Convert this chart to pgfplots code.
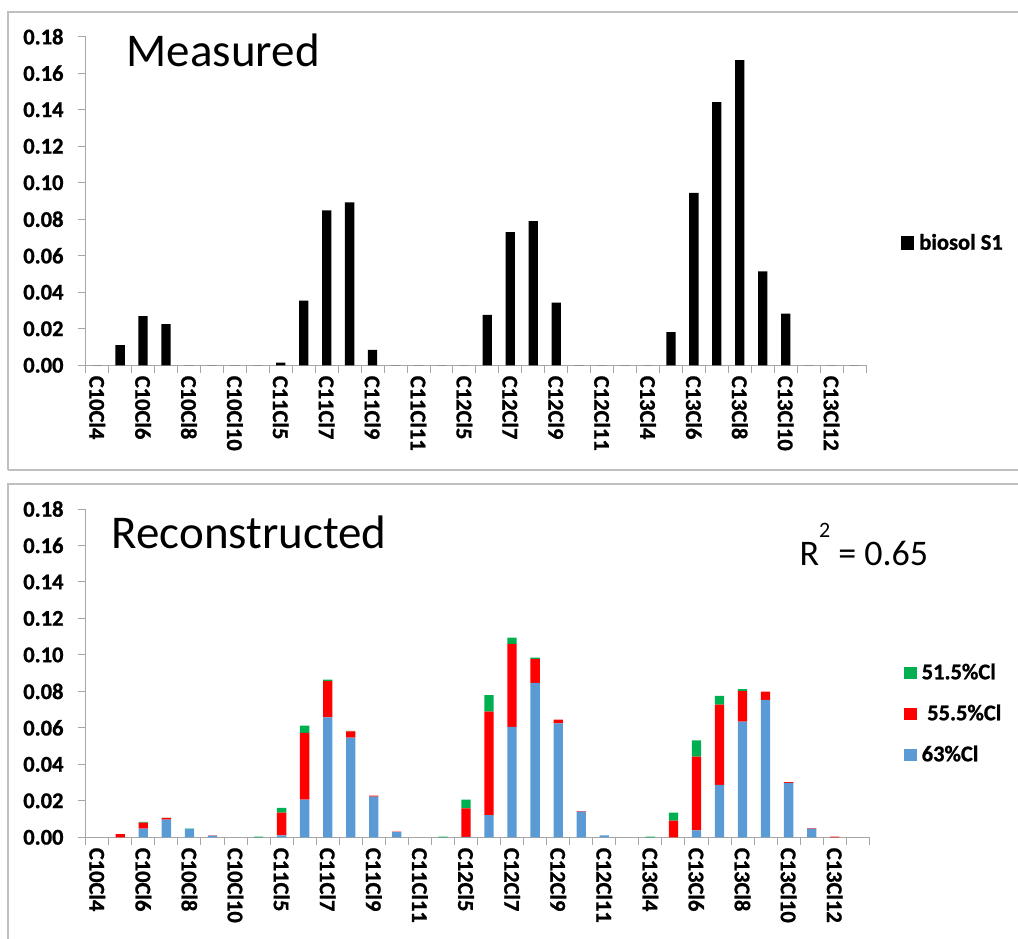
\documentclass[border=0pt]{standalone}
\usepackage{fontspec}
\setmainfont{Carlito}[BoldFeatures={FakeBold=1}]
\usepackage{pgfplots}
\usepackage{pgfplotstable}
\pgfplotsset{compat=1.18}
\definecolor{cgreen}{HTML}{00B050}
\definecolor{cred}{HTML}{FF0000}
\definecolor{cblue}{HTML}{5B9BD5}
\definecolor{axgray}{HTML}{A6A6A6}
\definecolor{bordergray}{HTML}{BFBFBF}
\newcommand\xl[1]{\hspace*{7pt}#1}

\pgfplotstableread{
idx meas
0 0
1 0.0110
2 0.0270
3 0.0225
4 0
5 0
6 0
7 0
8 0.0014
9 0.0354
10 0.0849
11 0.0893
12 0.0084
13 0
14 0
15 0
16 0
17 0.0276
18 0.0729
19 0.0790
20 0.0343
21 0
22 0
23 0
24 0
25 0.0182
26 0.0944
27 0.1441
28 0.1671
29 0.0515
30 0.0283
31 0
32 0
33 0
}\measured

\pgfplotstableread{
idx blue red green
0 0 0 0
1 0 0.0018 0
2 0.0048 0.0032 0.0004
3 0.0097 0.0009 0.0001
4 0.0046 0 0.0002
5 0.0009 0.0002 0
6 0 0 0
7 0 0 0.0003
8 0.0011 0.0124 0.0026
9 0.0207 0.0365 0.0040
10 0.0658 0.0198 0.0009
11 0.0547 0.0034 0.0002
12 0.0223 0.0006 0
13 0.0029 0.0002 0
14 0 0 0
15 0 0 0.0004
16 0.0002 0.0157 0.0048
17 0.0121 0.0568 0.0090
18 0.0605 0.0455 0.0035
19 0.0846 0.0132 0.0007
20 0.0625 0.0020 0
21 0.0141 0.0002 0
22 0.0011 0 0
23 0 0 0
24 0 0 0.0003
25 0 0.0091 0.0044
26 0.0038 0.0404 0.0090
27 0.0287 0.0441 0.0047
28 0.0634 0.0167 0.0011
29 0.0753 0.0046 0
30 0.0298 0.0005 0
31 0.0048 0.0002 0
32 0 0.0003 0
33 0 0 0
}\recon

\pgfplotsset{
  common/.style={
    scale only axis,
    xmin=-0.5, xmax=33.5, ymin=0, ymax=0.18,
    axis lines*=left,
    axis line style={axgray, line width=0.9pt},
    tick style={axgray, line width=0.9pt},
    tick align=outside,
    major tick length=0pt, minor tick length=8pt,
    xtick={0,2,...,32},
    xticklabels={\xl{C10Cl4},\xl{C10Cl6},\xl{C10Cl8},\xl{C10Cl10},\xl{C11Cl5},\xl{C11Cl7},\xl{C11Cl9},\xl{C11Cl11},\xl{C12Cl5},\xl{C12Cl7},\xl{C12Cl9},\xl{C12Cl11},\xl{C13Cl4},\xl{C13Cl6},\xl{C13Cl8},\xl{C13Cl10},\xl{C13Cl12}},
    minor xtick={-0.5,0.5,...,33.5},
    ytick={0,0.02,0.04,0.06,0.08,0.10,0.12,0.14,0.16,0.18},
    minor ytick={0,0.02,0.04,0.06,0.08,0.10,0.12,0.14,0.16,0.18},
    scaled y ticks=false,
    /pgf/number format/fixed,
    /pgf/number format/fixed zerofill,
    /pgf/number format/precision=2,
    /pgf/number format/assume math mode=true,
    ticklabel style={font=\bfseries\fontsize{22.5}{22.5}\selectfont},
    xticklabel style={rotate=-90, anchor=west},
    yticklabel style={anchor=east, inner xsep=22pt},
    xticklabel shift=0pt,
    yticklabel shift=0pt,
    legend style={draw=none, fill=none, anchor=west, inner sep=0pt, outer sep=0pt,
      font=\bfseries\fontsize{22.5}{22.5}\selectfont,
      nodes={inner sep=0pt, text height=14pt, text depth=0pt},
      column sep=5pt, row sep=27pt, cells={anchor=base west}},
  }
}

\begin{document}
\begin{tikzpicture}[x=1pt,y=1pt]
\useasboundingbox (0,0) rectangle (1018,939);
\draw[bordergray, line width=1.2pt] (8,469) -- (8,927) -- (1040,927);
\draw[bordergray, line width=1.2pt] (8,469) -- (1040,469);
\draw[bordergray, line width=1.2pt] (8,-20) -- (8,455) -- (1040,455);

\begin{axis}[common,
  at={(85.7pt,573.7pt)}, anchor=south west,
  width=780.3pt, height=328.6pt,
  ybar, bar width=9.3pt,
  legend style={at={(1.0445,0.373)}},
]
\addplot[fill=black, draw=none,
  legend image code/.code={\fill[black] (0pt,0pt) rectangle (13.6pt,13.6pt);}]
  table[x=idx, y=meas] {\measured};
\addlegendentry{biosol S1}
\end{axis}

\node[anchor=base west, inner sep=0pt] at (126.5pt,872pt) {\fontsize{47}{47}\selectfont Measured};

\begin{axis}[common,
  at={(85.7pt,101.7pt)}, anchor=south west,
  width=783.6pt, height=328.3pt,
  ybar stacked, bar width=9.3pt,
  reverse legend,
  legend style={at={(1.0443,0.3777)}},
]
\addplot[fill=cblue, draw=none,
  legend image code/.code={\fill[cblue] (0pt,0pt) rectangle (12.7pt,12.7pt);}]
  table[x=idx, y=blue] {\recon};
\addlegendentry{63\%Cl}
\addplot[fill=cred, draw=none,
  legend image code/.code={\fill[cred] (0pt,0pt) rectangle (12.7pt,12.7pt);}]
  table[x=idx, y=red] {\recon};
\addlegendentry{\hspace{5.5pt}55.5\%Cl}
\addplot[fill=cgreen, draw=none,
  legend image code/.code={\fill[cgreen] (0pt,0pt) rectangle (12.7pt,12.7pt);}]
  table[x=idx, y=green] {\recon};
\addlegendentry{51.5\%Cl}
\end{axis}

\node[anchor=base west, inner sep=0pt] at (111.5pt,390.7pt) {\fontsize{47}{47}\selectfont Reconstructed};
\node[anchor=base west, inner sep=0pt] at (799.3pt,373pt) {\fontsize{36}{36}\selectfont R\raisebox{28pt}{\fontsize{22}{22}\selectfont 2} = 0.65};
\end{tikzpicture}
\end{document}
